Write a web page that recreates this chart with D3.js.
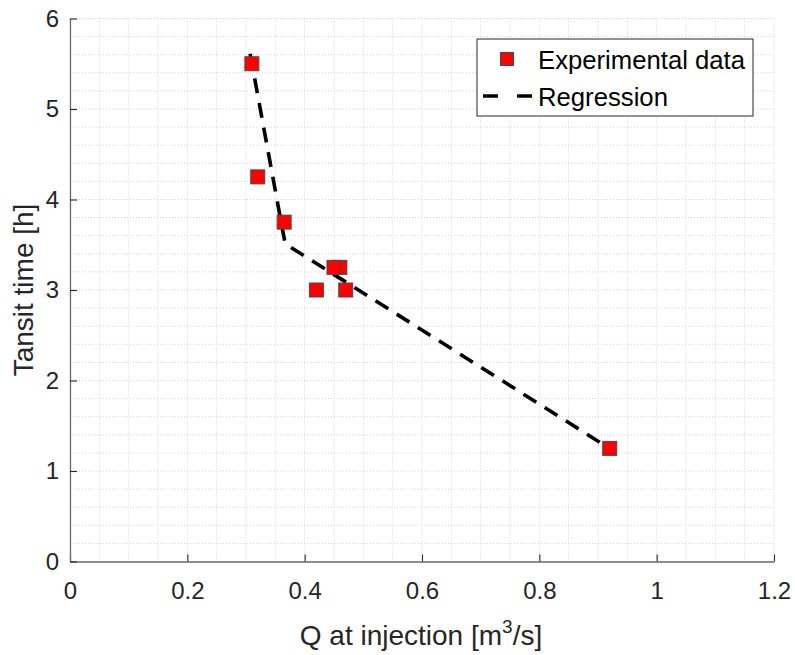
<!DOCTYPE html>
<html>
<head>
<meta charset="utf-8">
<script src="https://cdn.jsdelivr.net/npm/d3@7"></script>
<style>
  html, body { margin: 0; padding: 0; background: #fff; }
  svg { display: block; font-family: "Liberation Sans", Arial, sans-serif; }
</style>
</head>
<body>
<svg id="chart" width="795" height="655"></svg>
<script>
// ---- data ----
const qValues    = [0.31, 0.32, 0.365, 0.42, 0.46, 0.45, 0.47, 0.92];
const timeValues = [5.5, 4.25, 3.75, 3.0, 3.25, 3.25, 3.0, 1.25];
const regQ       = [0.307, 0.363, 0.367, 0.922];
const regTime    = [5.61, 3.64, 3.51, 1.24];
const xTicks     = [0, 0.2, 0.4, 0.6, 0.8, 1, 1.2];
const yTicks     = [0, 1, 2, 3, 4, 5, 6];
const xLabel     = "Q at injection [m";
const yLabel     = "Tansit time [h]";
const legendLabels = ["Experimental data", "Regression"];

const svg = d3.select("#chart");
const L = 70, R = 774, T = 18.5, B = 561.5;
const x = d3.scaleLinear().domain([0, 1.2]).range([L, R]);
const y = d3.scaleLinear().domain([0, 6]).range([B, T]);
const txt = "#262626";

// grid (major + minor), dotted
const gx = d3.range(0, 1.2001, 0.05);
const gy = d3.range(0, 6.0001, 0.2);
const grid = svg.append("g");
grid.selectAll("line.gx").data(gx).join("line")
  .attr("x1", d => x(d)).attr("x2", d => x(d)).attr("y1", T).attr("y2", B)
  .attr("stroke", "#d2d2d2").attr("stroke-width", 1).attr("stroke-dasharray", "1,2");
grid.selectAll("line.gy").data(gy).join("line")
  .attr("y1", d => y(d)).attr("y2", d => y(d)).attr("x1", L).attr("x2", R)
  .attr("stroke", "#d2d2d2").attr("stroke-width", 1).attr("stroke-dasharray", "1,2");

// axes
const xAxis = d3.axisBottom(x).tickValues(xTicks).tickSizeInner(-7).tickSizeOuter(0)
  .tickPadding(20).tickFormat(d => String(d));
const yAxis = d3.axisLeft(y).tickValues(yTicks).tickSizeInner(-7).tickSizeOuter(0)
  .tickPadding(11).tickFormat(d => String(d));
const gX = svg.append("g").attr("transform", `translate(0,${B})`).call(xAxis);
const gY = svg.append("g").attr("transform", `translate(${L},0)`).call(yAxis);
[gX, gY].forEach(g => {
  g.select(".domain").attr("stroke", "#6a6a6a").attr("stroke-width", 1.3);
  g.selectAll(".tick line").attr("stroke", "#262626").attr("stroke-width", 1.1);
  g.selectAll(".tick text").attr("fill", txt).attr("font-size", 24)
    .attr("font-family", "Liberation Sans, Arial, sans-serif");
});

// regression line
const regPts = regQ.map((q, i) => [q, regTime[i]]);
svg.append("path").datum(regPts)
  .attr("d", d3.line().x(d => x(d[0])).y(d => y(d[1])))
  .attr("fill", "none").attr("stroke", "#000").attr("stroke-width", 3.6)
  .attr("stroke-dasharray", "15,10");

// markers
const pts = qValues.map((q, i) => [q, timeValues[i]]);
const ms = 14;
svg.append("g").selectAll("rect").data(pts).join("rect")
  .attr("x", d => x(d[0]) - ms / 2).attr("y", d => y(d[1]) - ms / 2)
  .attr("width", ms).attr("height", ms)
  .attr("fill", "#ff0000").attr("stroke", "#4a4a4a").attr("stroke-width", 1);

// axis titles
const xt = svg.append("text").attr("x", (L + R) / 2 - 1).attr("y", 645)
  .attr("text-anchor", "middle").attr("fill", txt).attr("font-size", 28);
xt.append("tspan").text(xLabel);
xt.append("tspan").text("3").attr("font-size", 19).attr("dy", -12);
xt.append("tspan").text("/s]").attr("dy", 12);

svg.append("text").attr("transform", `translate(33,${(T + B) / 2}) rotate(-90)`)
  .attr("text-anchor", "middle").attr("fill", txt).attr("font-size", 28).text(yLabel);

// legend
const lg = svg.append("g");
lg.append("rect").attr("x", 477).attr("y", 39).attr("width", 276).attr("height", 77)
  .attr("fill", "#fff").attr("stroke", "#262626").attr("stroke-width", 1);
lg.append("rect").attr("x", 507 - 6.5).attr("y", 59 - 6.5).attr("width", 13).attr("height", 13)
  .attr("fill", "#ff0000").attr("stroke", "#4a4a4a").attr("stroke-width", 1);
lg.append("line").attr("x1", 483).attr("x2", 532).attr("y1", 96).attr("y2", 96)
  .attr("stroke", "#000").attr("stroke-width", 3.6).attr("stroke-dasharray", "15,19");
lg.selectAll("text.lt").data(legendLabels).join("text")
  .attr("x", 538).attr("y", (d, i) => 69 + i * 37)
  .attr("fill", "#000").attr("font-size", 25.7).text(d => d);
</script>
</body>
</html>
